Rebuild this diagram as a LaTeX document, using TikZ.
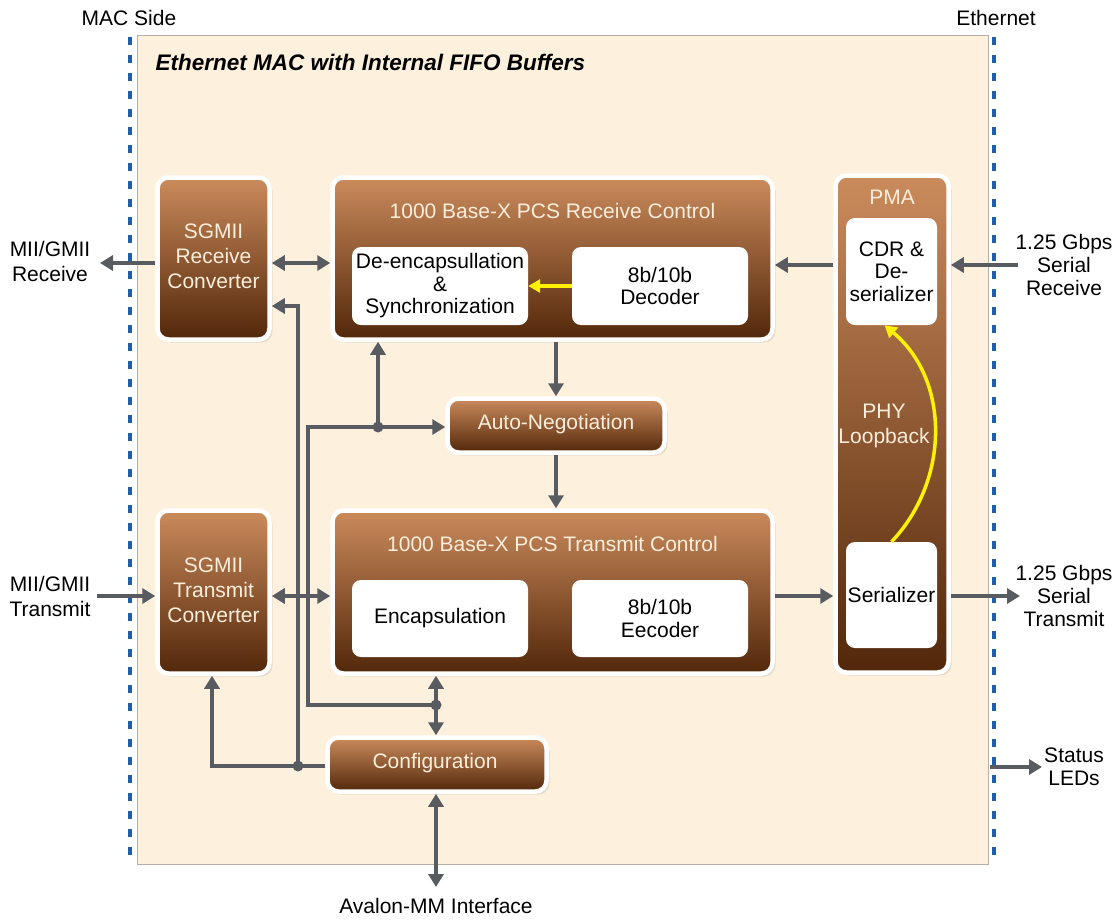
\documentclass[tikz,border=0pt]{standalone}
\usepackage{fontspec}
\setmainfont{Liberation Sans}
\usetikzlibrary{arrows.meta,shadows}
\definecolor{beige}{HTML}{FDF1DE}
\definecolor{panelline}{HTML}{B5AFA5}
\definecolor{dashblue}{HTML}{1E5EAE}
\definecolor{btop}{HTML}{CB8B5C}
\definecolor{bbot}{HTML}{52270A}
\definecolor{cream}{HTML}{FDEEDB}
\definecolor{agrey}{HTML}{585B60}
\definecolor{ylw}{HTML}{FFF200}
\tikzset{
 brownbox/.style={draw=white, line width=4.5pt, rounded corners=11pt, top color=btop, bottom color=bbot,
   drop shadow={opacity=0.18, shadow xshift=3pt, shadow yshift=-3pt}, inner sep=0pt},
 whitebox/.style={fill=white, rounded corners=9pt, inner sep=0pt, align=center, text=black, font=\fontsize{21}{22.5}\selectfont},
 ctext/.style={text=cream, align=center},
 arr/.style={draw=agrey, line width=4pt, -{Triangle[length=13pt,width=15pt]}},
 darr/.style={draw=agrey, line width=4pt, {Triangle[length=13pt,width=15pt]}-{Triangle[length=13pt,width=15pt]}},
 bus/.style={draw=agrey, line width=4pt},
 junction/.style={circle, fill=agrey, inner sep=0pt, minimum size=11pt},
 yarr/.style={draw=ylw, line width=3.5pt, -{Triangle[length=12pt,width=13pt]}},
 lbl/.style={align=center, text=black},
 rlbl/.style={align=center, text=black, font=\fontsize{21}{23}\selectfont},
 blueline/.style={draw=dashblue, line width=4pt, dash pattern=on 8pt off 10pt},
}
\begin{document}
\begin{tikzpicture}[x=1pt,y=-1pt,font=\fontsize{21}{25}\selectfont]
\useasboundingbox (0,0) rectangle (1118,919);
% panel and side lines
\draw[fill=beige, draw=panelline, line width=1pt] (137,35) rectangle (988,864);
\draw[blueline] (130,37) -- (130,864);
\draw[blueline] (994,37) -- (994,864);
\node[lbl] (macside) at (129,18) {MAC Side};
\node[lbl] (ethside) at (996,18) {Ethernet};
\node[lbl, anchor=west, font=\fontsize{22.5}{25}\selectfont\bfseries\itshape] (title) at (152,62) {Ethernet MAC with Internal FIFO Buffers};

% brown boxes
\node[brownbox, minimum width=112pt, minimum height=162pt] (sgrx) at (213.5,258.5) {};
\node[ctext] (sgrxt) at (213.5,256) {SGMII\\Receive\\Converter};
\node[brownbox, minimum width=440pt, minimum height=162pt] (pcsrx) at (552.5,258.5) {};
\node[ctext] (pcsrxt) at (552.5,211) {1000 Base-X PCS Receive Control};
\node[brownbox, minimum width=217pt, minimum height=54pt] (autoneg) at (556,425.5) {};
\node[ctext] (autonegt) at (556,424) {Auto-Negotiation};
\node[brownbox, minimum width=440pt, minimum height=163pt] (pcstx) at (552.5,592) {};
\node[ctext] (pcstxt) at (552.5,544) {1000 Base-X PCS Transmit Control};
\node[brownbox, minimum width=112pt, minimum height=163pt] (sgtx) at (213.5,592) {};
\node[ctext] (sgtxt) at (213.5,590) {SGMII\\Transmit\\Converter};
\node[brownbox, minimum width=219pt, minimum height=54pt] (config) at (437,764.5) {};
\node[ctext] (configt) at (435,763) {Configuration};
\node[brownbox, minimum width=113pt, minimum height=497pt] (pma) at (892,424) {};
\node[ctext] (pmat) at (892,197) {PMA};
\node[ctext] (phyt) at (884,426) {PHY\\Loopback};

% white boxes
\node[whitebox, minimum width=176pt, minimum height=78pt] (deenc) at (440,286) {De-encapsullation\\\&\\Synchronization};
\node[whitebox, minimum width=176pt, minimum height=78pt] (dec) at (660,286) {8b/10b\\Decoder};
\node[whitebox, minimum width=176pt, minimum height=77pt] (enc) at (440,618.5) {Encapsulation};
\node[whitebox, minimum width=176pt, minimum height=77pt] (eenc) at (660,618.5) {8b/10b\\Eecoder};
\node[whitebox, minimum width=91pt, minimum height=107pt] (cdr) at (891.5,271.5) {CDR \&\\De-\\serializer};
\node[whitebox, minimum width=91pt, minimum height=106pt] (ser) at (891.5,595) {Serializer};

% yellow arrows
\draw[yarr] (dec.west) -- (deenc.east);
\draw[yarr] (ser.north) .. controls (950,480) and (950,380) .. ([xshift=-7pt]cdr.south);

% coordinates for free ends
\coordinate (miirx) at (100,263);
\coordinate (srx) at (1018,265);
\coordinate (miitx) at (97,596);
\coordinate (stx) at (1020,596);
\coordinate (b1top) at (298,306);
\coordinate (j1) at (298,766);
\coordinate (b2top) at (308,427);
\coordinate (b2bot) at (308,705);
\coordinate (j2) at (378,427);
\coordinate (j3) at (436,705);
\coordinate (avl) at (436,887);
\coordinate (ledsrc) at (990,767);
\coordinate (led) at (1042,767);
\coordinate (sgtxin) at (212,766);

% receive path
\draw[arr] (sgrx.west|-miirx) -- (miirx);
\draw[darr] (sgrx.east|-miirx) -- (pcsrx.west|-miirx);
\draw[arr] (pma.west|-srx) -- (pcsrx.east|-srx);
\draw[arr] (srx) -- (pma.east|-srx);
\node[lbl] (miirxl) at (50,261) {MII/GMII\\Receive};
\node[rlbl] (srxl) at (1064,265) {1.25 Gbps\\Serial\\Receive};

% auto-negotiation
\draw[arr] (autoneg.north|-pcsrx.south) -- (autoneg.north);
\draw[arr] (autoneg.south) -- (autoneg.south|-pcstx.north);

% transmit path
\draw[arr] (miitx) -- (sgtx.west|-miitx);
\draw[darr] (sgtx.east|-miitx) -- (pcstx.west|-miitx);
\draw[arr] (pcstx.east|-miitx) -- (pma.west|-miitx);
\draw[arr] (pma.east|-stx) -- (stx);
\node[lbl] (miitxl) at (50,596) {MII/GMII\\Transmit};
\node[rlbl] (stxl) at (1064,596) {1.25 Gbps\\Serial\\Transmit};

% management buses
\draw[arr] (j1) -- (b1top) -- (sgrx.east|-b1top);
\draw[arr] (config.west|-j1) -- (sgtxin) -- (sgtxin|-sgtx.south);
\draw[bus] (j3) -- (b2bot) -- (b2top) -- (j2);
\draw[arr] (j2) -- (autoneg.west|-j2);
\draw[arr] (j2) -- (j2|-pcsrx.south);
\draw[arr] (j3) -- (j3|-pcstx.south);
\draw[arr] (j3) -- (j3|-config.north);
\node[junction] (dj1) at (j1) {};
\node[junction] (dj2) at (j2) {};
\node[junction] (dj3) at (j3) {};
\draw[darr] (config.south-|j3) -- (avl);
\node[lbl] (avll) at (436,906) {Avalon-MM Interface};

% status LEDs
\draw[arr] (ledsrc) -- (led);
\node[rlbl] (ledl) at (1074,767) {Status\\LEDs};
\end{tikzpicture}
\end{document}
